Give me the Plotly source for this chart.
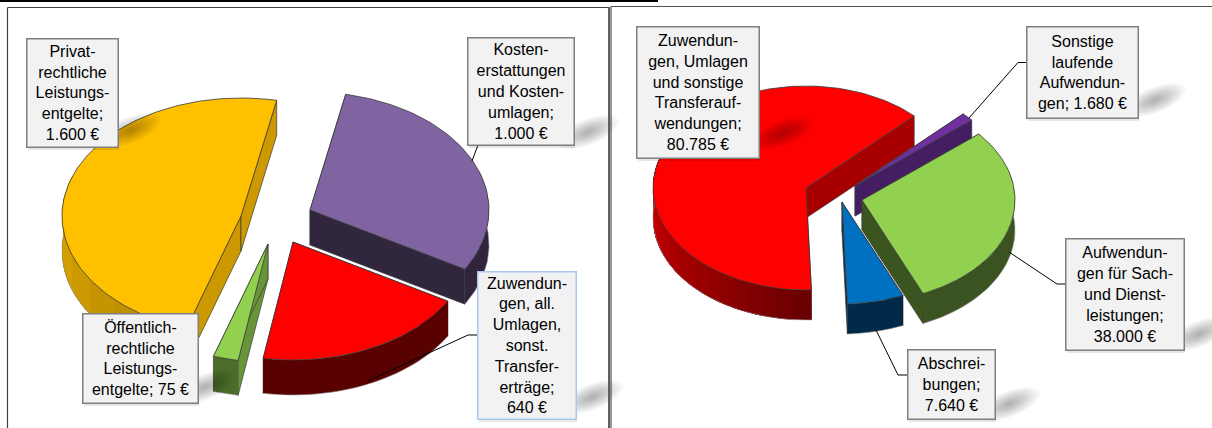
import math
import plotly.graph_objects as go

# ---- data ----
left_categories = ["Kostenerstattungen und Kostenumlagen",
                   "Zuwendungen, allgemeine Umlagen, sonstige Transfererträge",
                   "Öffentlich-rechtliche Leistungsentgelte",
                   "Privatrechtliche Leistungsentgelte"]
left_values = [1000, 640, 75, 1600]
right_categories = ["Sonstige laufende Aufwendungen",
                    "Aufwendungen für Sach- und Dienstleistungen",
                    "Abschreibungen",
                    "Zuwendungen, Umlagen und sonstige Transferaufwendungen"]
right_values = [1680, 38000, 7640, 80785]

left_labels = ["Kosten-<br>erstattungen<br>und Kosten-<br>umlagen;<br>1.000 €",
               "Zuwendun-<br>gen, all.<br>Umlagen,<br>sonst.<br>Transfer-<br>erträge;<br>640 €",
               "Öffentlich-<br>rechtliche<br>Leistungs-<br>entgelte; 75 €",
               "Privat-<br>rechtliche<br>Leistungs-<br>entgelte;<br>1.600 €"]
right_labels = ["Sonstige<br>laufende<br>Aufwendun-<br>gen; 1.680 €",
                "Aufwendun-<br>gen für Sach-<br>und Dienst-<br>leistungen;<br>38.000 €",
                "Abschrei-<br>bungen;<br>7.640 €",
                "Zuwendun-<br>gen, Umlagen<br>und sonstige<br>Transferauf-<br>wendungen;<br>80.785 €"]

# ---- styles and layout ----
left_colors = ["#8064a2", "#ff0000", "#92d050", "#ffc000"]
right_colors = ["#7030a0", "#92d050", "#0070c0", "#ff0000"]
left_apex = [(310, 210), (293, 242), (268, 244), (241, 216)]
right_apex = [(855, 186), (862, 200), (842, 202), (806, 188)]
left_rim = [(.38, .38), (.36, .36), (.53, .53), (.68, .85)]
right_rim = [(.6, .6), (.41, .41), (.38, .38), (.42, .8)]
left_wall = [.38, .36, .72, .8]
right_wall = [.62, .41, .38, .66]
left_order = [3, 2, 0, 1]
right_order = [3, 0, 2, 1]
left_geom = dict(a=179, b=118, depth=35, start=-78.5)
right_geom = dict(a=153, b=102, depth=30, start=-45.0)

left_boxes = [(467, 37, 574, 145), (477, 271, 576, 419), (82, 313, 198, 403), (26, 38, 118, 147)]
right_boxes = [(1026, 26, 1138, 118), (1065, 238, 1184, 350), (907, 349, 995, 419), (636, 26, 759, 158)]
left_border = ["#7f7f7f", "#a9c8ec", "#7f7f7f", "#7f7f7f"]
right_border = ["#7f7f7f"] * 4
smudges = [(588, 132), (592, 397), (205, 387), (130, 130), (1155, 100), (1199, 334), (1009, 404), (783, 133)]
leaders = [
    [(478, 145), (472, 161)],
    [(477, 335), (468, 335), (368, 381)],
    [(1026, 62.5), (1018, 62.5), (969, 118)],
    [(1065, 284), (1057, 284), (1009, 252)],
    [(907, 375), (898, 375), (876, 330)],
]
FONT = dict(family="Liberation Sans, Arial, sans-serif", size=16, color="#000000")
EDGE = "#3a3a3a"


def shade(hex_color, f):
    r, g, b = (int(hex_color[i:i + 2], 16) for i in (1, 3, 5))
    return f"rgb({int(r * f)},{int(g * f)},{int(b * f)})"


fig = go.Figure()


def poly(xs, ys, fill, line=None, width=0.6, name=""):
    fig.add_trace(go.Scatter(x=xs, y=ys, mode="lines", fill="toself", fillcolor=fill,
                             line=dict(color=line or fill, width=width), name=name,
                             hoverinfo="skip", showlegend=False))


def draw_pie(cats, vals, colors, apexes, rims, walls, order, geom):
    a, b, d = geom["a"], geom["b"], geom["depth"]
    total = sum(vals)
    angles = [geom["start"]]
    for v in vals:
        angles.append(angles[-1] + 360.0 * v / total)
    for i in order:
        cx, cy = apexes[i]
        t0, t1 = angles[i], angles[i + 1]
        col = colors[i]
        lo, hi = rims[i]
        n = max(2, int((t1 - t0) / 1.5))
        ts = [t0 + (t1 - t0) * k / n for k in range(n + 1)]
        ex = [cx + a * math.cos(math.radians(t)) for t in ts]
        ey = [cy + b * math.sin(math.radians(t)) for t in ts]
        # radial cut walls
        for px, py in ((ex[0], ey[0]), (ex[-1], ey[-1])):
            poly([cx, px, px, cx, cx], [cy, py, py + d, cy + d, cy],
                 shade(col, walls[i]), EDGE, 0.7, cats[i])
        # rim: each piece runs on to the end of the slice, the next one paints over it
        vis = [k for k in range(n + 1) if not (200 < ts[k] % 360 < 340)]
        last_f = None
        for k in vis[:-1]:
            tm = ts[k] % 360
            w = min(1.0, max(0.0, (tm - 90) / 90)) if tm < 200 else 0.0
            f = round((lo + (hi - lo) * w) * 40) / 40
            if f == last_f:
                continue
            last_f = f
            rest = [j for j in vis if j >= k]
            xs = [ex[j] for j in rest] + [ex[j] for j in rest][::-1] + [ex[k]]
            ys = [ey[j] for j in rest] + [ey[j] + d for j in rest][::-1] + [ey[k]]
            poly(xs, ys, shade(col, f), "rgba(0,0,0,0)", 0, cats[i])
        # bottom outline of the rim
        fig.add_trace(go.Scatter(x=[ex[k] for k in vis], y=[ey[k] + d for k in vis], mode="lines",
                                 line=dict(color="#8a8a8a", width=0.6), hoverinfo="skip",
                                 showlegend=False))
        # top face
        poly([cx] + ex + [cx], [cy] + ey + [cy], col, EDGE, 0.8, cats[i])


draw_pie(left_categories, left_values, left_colors, left_apex, left_rim, left_wall, left_order, left_geom)
draw_pie(right_categories, right_values, right_colors, right_apex, right_rim, right_wall, right_order, right_geom)


# soft shadows next to the labels
def smudge(cx, cy):
    rot = math.radians(-22)
    for k in range(12):
        s = 1 - k / 12
        rx, ry = 33 * s, 13 * s
        xs, ys = [], []
        for j in range(37):
            u = math.radians(j * 10)
            x0, y0 = rx * math.cos(u), ry * math.sin(u)
            xs.append(cx + x0 * math.cos(rot) - y0 * math.sin(rot))
            ys.append(cy + x0 * math.sin(rot) + y0 * math.cos(rot))
        poly(xs, ys, "rgba(0,0,0,0.028)", "rgba(0,0,0,0)", 0)


for cx, cy in smudges:
    smudge(cx, cy)

# faint drop shadow below the label boxes
for x0, y0, x1, y1 in left_boxes + right_boxes:
    fig.add_shape(type="rect", x0=x0 + 2, y0=y1 - 2, x1=x1 + 1, y1=y1 + 3, xref="x", yref="y",
                  line=dict(width=0), fillcolor="rgba(0,0,0,0.09)")

# leader lines
for pts in leaders:
    fig.add_trace(go.Scatter(x=[p[0] for p in pts], y=[p[1] for p in pts], mode="lines",
                             line=dict(color="#000000", width=1), hoverinfo="skip", showlegend=False))

# data labels
for labels, boxes, borders in ((left_labels, left_boxes, left_border), (right_labels, right_boxes, right_border)):
    for text, (x0, y0, x1, y1), bc in zip(labels, boxes, borders):
        fig.add_annotation(x=x0, y=y0, xref="x", yref="y", xanchor="left", yanchor="top",
                           text=text, showarrow=False, align="center", valign="middle",
                           width=x1 - x0 - 2, height=y1 - y0 - 2, borderpad=0, borderwidth=1.5,
                           bordercolor=bc, bgcolor="#f2f2f2", font=FONT)

# panel frames
frames = [
    (0, 1, 658, 1, "#000000", 2), (7.5, 7.5, 608, 7.5, "#404040", 1.2), (7.5, 7.5, 7.5, 428, "#404040", 1.2),
    (609, 7, 609, 428, "#606060", 2), (611, 6.5, 1212, 6.5, "#505050", 1.2), (611, 6.5, 611, 428, "#303030", 1),
]
for x0, y0, x1, y1, c, w in frames:
    fig.add_shape(type="line", x0=x0, y0=y0, x1=x1, y1=y1, xref="x", yref="y", line=dict(color=c, width=w))

fig.update_layout(
    width=1212, height=428, margin=dict(l=0, r=0, t=0, b=0), autosize=False,
    paper_bgcolor="#ffffff", plot_bgcolor="#ffffff", showlegend=False, font=FONT,
    xaxis=dict(range=[0, 1212], visible=False, fixedrange=True),
    yaxis=dict(range=[428, 0], visible=False, fixedrange=True),
)
fig.write_html("out.html", config={"displayModeBar": False},
               post_script="document.body.style.margin='0';document.body.style.overflow='hidden';")
